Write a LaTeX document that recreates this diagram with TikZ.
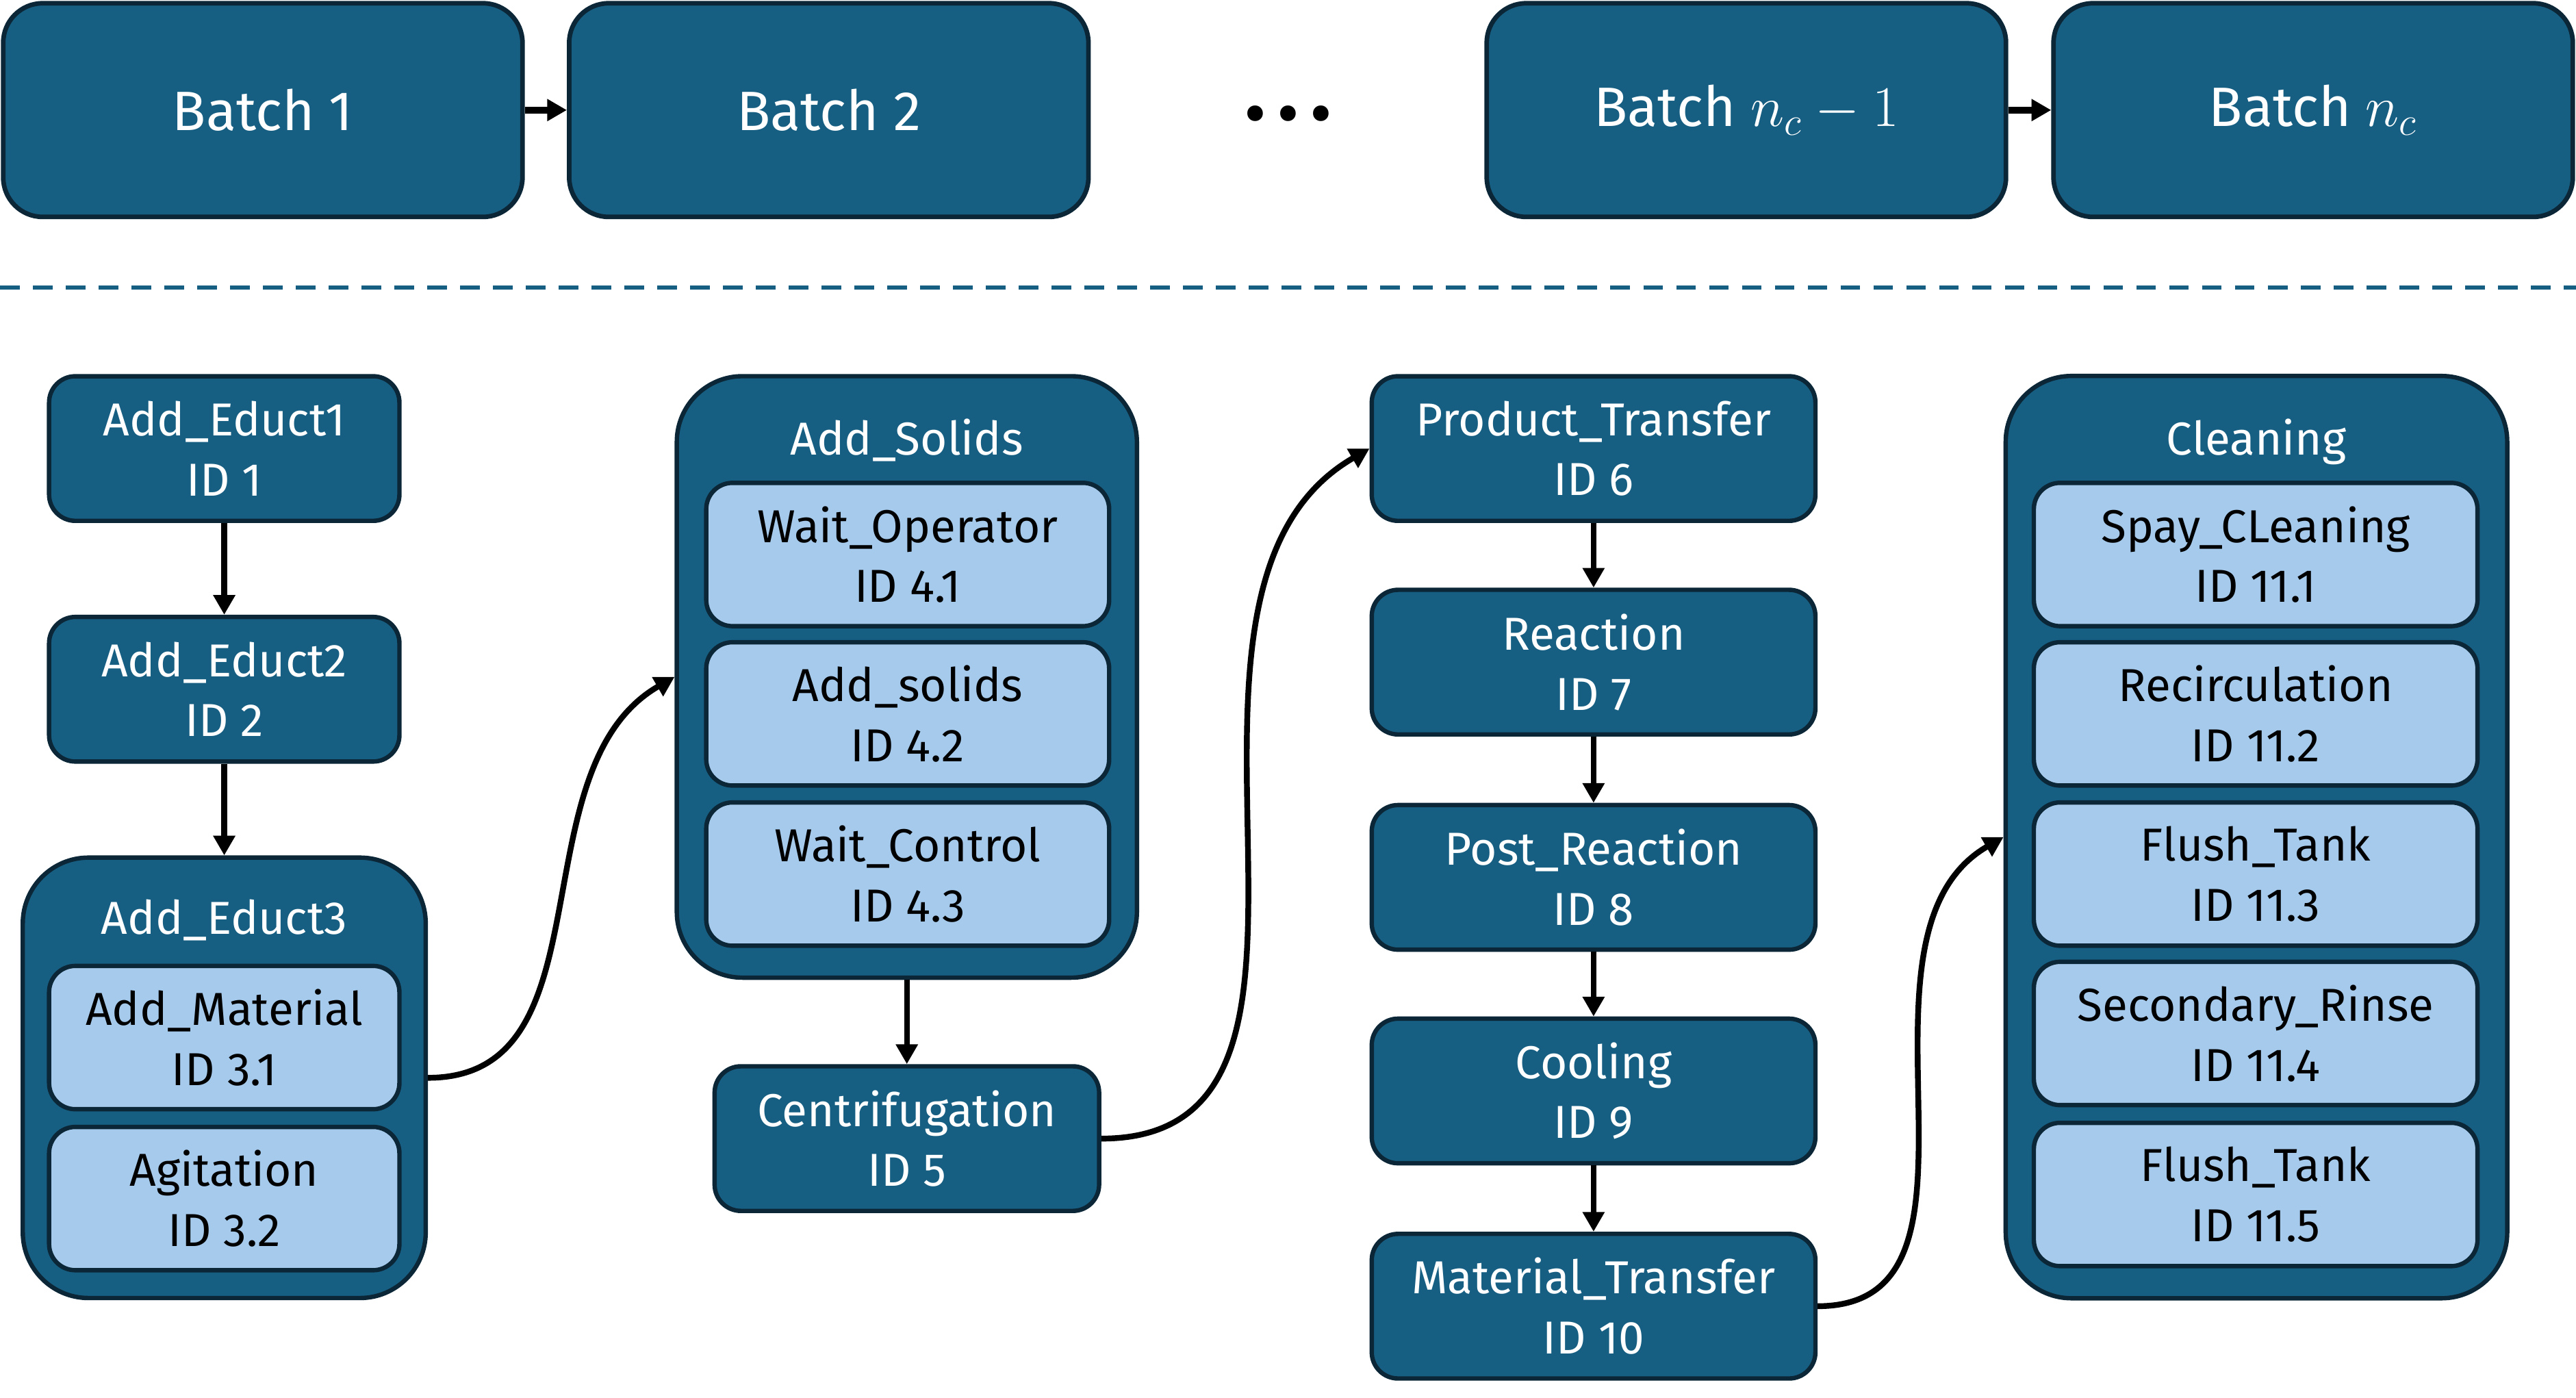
\documentclass[tikz,border=0pt]{standalone}
\usepackage{fontspec}
\setmainfont{Fira Sans}
\usetikzlibrary{arrows.meta}

\definecolor{stepblue}{HTML}{175F82}
\definecolor{steplight}{HTML}{A6CAEC}
\definecolor{stepedge}{HTML}{0B2636}

\tikzset{
    batchbox/.style={draw=stepedge, fill=stepblue, line width=2pt, rounded corners=0.6cm,
        minimum width=7.9cm, minimum height=3.25cm, text=white, font=\fontsize{24}{29}\selectfont},
    opbox/.style={draw=stepedge, fill=stepblue, line width=1.9pt, rounded corners=0.4cm,
        minimum height=2.2cm, text=white, align=center, font=\fontsize{20}{26}\selectfont},
    subbox/.style={opbox, fill=steplight, text=black, minimum height=2.18cm},
    groupbox/.style={draw=stepedge, fill=stepblue, line width=1.9pt, rounded corners=1cm},
    grouptitle/.style={text=white, font=\fontsize{20}{26}\selectfont},
    flow/.style={-{Triangle[length=0.3cm,width=0.32cm]}, line width=2.5pt},
    topflow/.style={-{Triangle[length=0.3cm,width=0.32cm]}, line width=3pt}
}

\begin{document}
\begin{tikzpicture}[x=0.025cm, y=0.025cm]
            \useasboundingbox (0,0) rectangle (1568,-850.5);
            \node[batchbox] (b1) at (160,-67) {Batch 1};
            \node[batchbox] (b2) at (504.5,-67) {Batch 2};
            \node[font=\fontsize{30}{30}\selectfont] (dots) at (784,-74) {\textbullet\hspace{0.15em}\textbullet\hspace{0.15em}\textbullet};
            \node[batchbox] (bn1) at (1063,-67) {Batch \(n_c - 1\)};
            \node[batchbox] (bn) at (1408,-67) {Batch \(n_c\)};
            \draw[topflow] (b1) -- (b2);
            \draw[topflow] (bn1) -- (bn);
            \draw[stepblue, line width=1.9pt, dash pattern=on 0.3cm off 0.2cm] (0,-175) -- (1568,-175);

            \node[opbox, minimum width=5.33cm] (educt1) at (136.5,-273) {Add\_Educt1\\ID 1};
            \node[opbox, minimum width=5.33cm] (educt2) at (136.5,-419.5) {Add\_Educt2\\ID 2};
            \node[groupbox, minimum width=6.13cm, minimum height=6.7cm] (educt3) at (136.5,-656) {};
            \node[grouptitle] (educt3title) at (136.5,-560) {Add\_Educt3};
            \node[subbox, minimum width=5.33cm] (material) at (136.5,-631.5) {Add\_Material\\ID 3.1};
            \node[subbox, minimum width=5.33cm] (agitation) at (136.5,-729.5) {Agitation\\ID 3.2};

            \node[groupbox, minimum width=7cm, minimum height=9.15cm] (solids) at (552,-412) {};
            \node[grouptitle] (solidstitle) at (552,-268) {Add\_Solids};
            \node[subbox, minimum width=6.13cm] (waitop) at (552.5,-337.5) {Wait\_Operator\\ID 4.1};
            \node[subbox, minimum width=6.13cm] (addsolids) at (552.5,-434.5) {Add\_solids\\ID 4.2};
            \node[subbox, minimum width=6.13cm] (waitctrl) at (552.5,-532) {Wait\_Control\\ID 4.3};
            \node[opbox, minimum width=5.85cm] (centri) at (552,-693) {Centrifugation\\ID 5};

            \node[opbox, minimum width=6.75cm] (transfer) at (970,-273) {Product\_Transfer\\ID 6};
            \node[opbox, minimum width=6.75cm] (reaction) at (970,-403) {Reaction\\ID 7};
            \node[opbox, minimum width=6.75cm] (postreact) at (970,-534) {Post\_Reaction\\ID 8};
            \node[opbox, minimum width=6.75cm] (cooling) at (970,-664) {Cooling\\ID 9};
            \node[opbox, minimum width=6.75cm] (mattransfer) at (970,-795) {Material\_Transfer\\ID 10};

            \node[groupbox, minimum width=7.63cm, minimum height=14.03cm] (cleaning) at (1373.5,-509.5) {};
            \node[grouptitle] (cleaningtitle) at (1373.5,-269) {Cleaning};
            \node[subbox, minimum width=6.75cm] (spray) at (1373,-337.5) {Spay\_CLeaning\\ID 11.1};
            \node[subbox, minimum width=6.75cm] (recirc) at (1373,-434.5) {Recirculation\\ID 11.2};
            \node[subbox, minimum width=6.75cm] (flusha) at (1373,-532) {Flush\_Tank\\ID 11.3};
            \node[subbox, minimum width=6.75cm] (rinse) at (1373,-629) {Secondary\_Rinse\\ID 11.4};
            \node[subbox, minimum width=6.75cm] (flushb) at (1373,-727) {Flush\_Tank\\ID 11.5};

            \draw[flow] (educt1.south) -- (educt2.north);
            \draw[flow] (educt2.south) -- (educt3.north);
            \draw[flow] (educt3.east) to[out=0, in=210] (solids.west);
            \draw[flow] (solids.south) -- (centri.north);
            \draw[flow] (centri.east) to[out=0, in=210] (transfer.west);
            \draw[flow] (transfer) -- (reaction);
            \draw[flow] (reaction) -- (postreact);
            \draw[flow] (postreact) -- (cooling);
            \draw[flow] (cooling) -- (mattransfer);
            \draw[flow] (mattransfer.east) to[out=0, in=210] (cleaning.west);
        \end{tikzpicture}
\end{document}
